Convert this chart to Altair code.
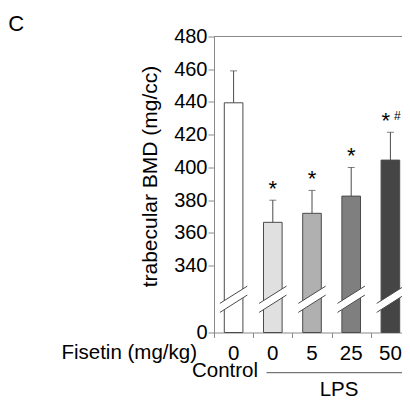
import altair as alt
import pandas as pd

# ---- data ----
groups = ["Control 0", "LPS 0", "LPS 5", "LPS 25", "LPS 50"]
doses = ["0", "0", "5", "25", "50"]
means = [439.5, 366.5, 372.0, 382.5, 404.5]
uppers = [459.0, 380.0, 386.0, 400.0, 421.5]
stars = ["", "*", "*", "*", "*"]
hashes = ["", "", "", "", "#"]
colors = ["#ffffff", "#e0e0e0", "#b0b0b0", "#7f7f7f", "#454545"]
y_ticks = [340, 360, 380, 400, 420, 440, 460, 480]

AXIS_BOTTOM = 299.2   # value at the broken-axis bottom (labelled 0)
BREAK_AT = 319.5      # where the bars are broken
Y_TOP = 480

W, H = 188, 296       # visible view width (page limit); bands laid over X_SPAN
X_SPAN = 196
FONT = "Liberation Sans"
AX = "#8a8a8a"
EDGE = "#4a4a4a"

df = pd.DataFrame({"group": groups, "dose": doses, "mean": means,
                   "upper": uppers, "star": stars, "hash": hashes})

xs = alt.Scale(domain=groups, paddingInner=0.525, paddingOuter=0.2625, range=[0, X_SPAN])
ys = alt.Scale(domain=[AXIS_BOTTOM, Y_TOP], nice=False, zero=False)

x_axis = alt.Axis(labelExpr="split(datum.label, ' ')[1]", labelAngle=0,
                  labelFontSize=20.5, labelFont=FONT, labelColor="black",
                  labelPadding=11, ticks=False, domain=False, tickSize=0,
                  labelOverlap=False,
                  title="Fisetin (mg/kg)", titleFont=FONT, titleFontSize=20.5,
                  titleFontWeight="normal", titleColor="black",
                  titleX=-17.5, titleY=26, titleAlign="right",
                  titleBaseline="alphabetic", titleAngle=0)

y_axis = alt.Axis(values=[AXIS_BOTTOM] + y_ticks,
                  labelExpr="datum.value < 330 ? '0' : datum.label",
                  labelFontSize=20, labelFont=FONT, labelColor="black",
                  labelOverlap=False, labelBound=False,
                  labelPadding=1, tickSize=6, tickColor=AX, domainColor=AX,
                  grid=False, title="trabecular BMD (mg/cc)",
                  titleFont=FONT, titleFontSize=21, titleFontWeight="normal",
                  titleColor="black", titleX=-57.5, titleY=139.5,
                  titleAlign="center", titleBaseline="alphabetic",
                  titleAngle=-90)

base = alt.Chart(df)
xg = alt.X("group:N", scale=xs, sort=groups, axis=x_axis)
y_mean = alt.Y("mean:Q", scale=ys, axis=y_axis)
y_up = alt.Y("upper:Q", scale=ys, axis=y_axis)
y_brk = alt.Y(datum=BREAK_AT, type="quantitative", scale=ys, axis=y_axis)

bars = base.mark_bar(stroke=EDGE, strokeWidth=1).encode(
    x=xg,
    y=y_mean,
    y2=alt.datum(AXIS_BOTTOM),
    fill=alt.Fill("group:N", scale=alt.Scale(domain=groups, range=colors), legend=None),
)

err = base.mark_rule(color=EDGE, strokeWidth=1).encode(x=xg, y=y_mean, y2="upper:Q")
caps = base.mark_tick(color=EDGE, thickness=1, size=7).encode(x=xg, y=y_up)

star_plain = base.transform_filter("datum.hash == ''").mark_text(
    font=FONT, fontSize=22, baseline="alphabetic", align="center", dy=-4.5, color="black"
).encode(x=xg, y=y_up, text="star:N")
star_hash = base.transform_filter("datum.hash != ''").mark_text(
    font=FONT, fontSize=22, baseline="alphabetic", align="center", dy=-4.5, dx=-4.7,
    color="black"
).encode(x=xg, y=y_up, text="star:N")
hash_txt = base.mark_text(font=FONT, fontSize=12, baseline="alphabetic", align="center",
                          dy=-12.4, dx=7, color="black").encode(x=xg, y=y_up, text="hash:N")

brk_fill = base.mark_point(
    shape="M -1 0.3 L 1 -0.96 L 1 -0.31 L -1 0.96 Z",
    filled=True, fill="white", strokeWidth=0, opacity=1, size=751,
).encode(x=xg, y=y_brk)
brk_line = base.mark_point(
    shape="M -1 0.3 L 1 -0.96 M -1 0.96 L 1 -0.31",
    filled=False, stroke=EDGE, strokeWidth=1, opacity=1, size=751,
).encode(x=xg, y=y_brk)

main = alt.layer(bars, err, caps, brk_fill, brk_line, star_plain, star_hash, hash_txt)

# quantitative helper scale (0..5 slots) for ticks between bars, frame and annotations
qs = alt.Scale(domain=[0, 5], nice=False, zero=False, range=[0, X_SPAN])
q_axis = alt.Axis(values=[0, 1, 2, 3, 4, 5], labels=False, title=None,
                  tickSize=5, tickColor=AX, domainColor=AX, grid=False, orient="bottom")
frame = alt.Chart(pd.DataFrame({"a": [0]})).mark_rule(color=AX, strokeWidth=1).encode(
    x=alt.X(datum=0, type="quantitative", scale=qs, axis=q_axis),
    x2=alt.datum(5),
    y=alt.Y(datum=Y_TOP, type="quantitative", scale=ys, axis=y_axis),
)
ctrl = alt.Chart(pd.DataFrame({"t": ["Control"]})).mark_text(
    font=FONT, fontSize=20.5, baseline="alphabetic", align="center", color="black"
).encode(x=alt.X(datum=0.28, type="quantitative", scale=qs, axis=q_axis),
         y=alt.value(H + 44.2), text="t:N")
lps_line = alt.Chart(pd.DataFrame({"a": [0]})).mark_rule(color="#555555", strokeWidth=1).encode(
    x=alt.X(datum=1.34, type="quantitative", scale=qs, axis=q_axis), x2=alt.datum(4.87),
    y=alt.value(H + 40.2),
)
lps = alt.Chart(pd.DataFrame({"t": ["LPS"]})).mark_text(
    font=FONT, fontSize=20.5, baseline="alphabetic", align="center", color="black"
).encode(x=alt.X(datum=3.19, type="quantitative", scale=qs, axis=q_axis),
         y=alt.value(H + 63.8), text="t:N")
panel = alt.Chart(pd.DataFrame({"t": ["C"]})).mark_text(
    font=FONT, fontSize=22, baseline="alphabetic", align="left", color="black"
).encode(x=alt.value(-205.7), y=alt.value(-5.5), text="t:N")

helpers = alt.layer(frame, ctrl, lps_line, lps, panel)

chart = alt.layer(main, helpers).resolve_scale(x="independent").properties(
    width=W, height=H,
    autosize=alt.AutoSizeParams(type="none"),
    padding={"left": 206, "top": 28.5, "right": 0, "bottom": 68},
).configure_view(strokeWidth=0).configure_axis(labelOverlap=False)

chart.save("out.html", embed_options={"renderer": "svg", "actions": False})
